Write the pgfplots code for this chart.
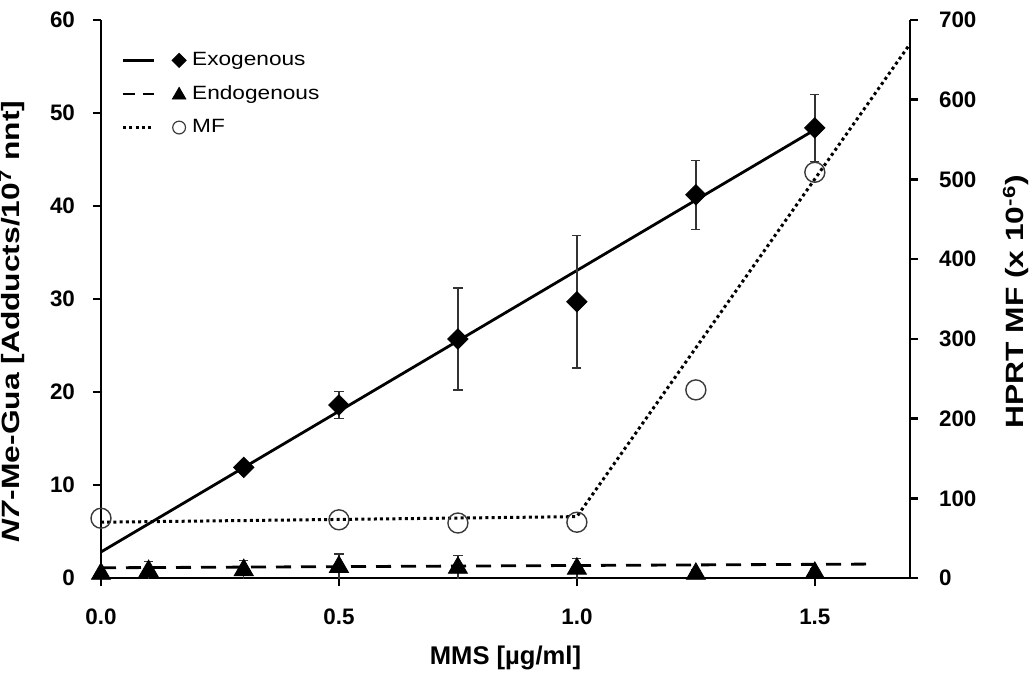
\documentclass[border=0pt]{standalone}
\usepackage{fontspec}
\setmainfont{Liberation Sans}
\newfontfamily\labfont{Liberation Sans}[FakeStretch=1.27]
\newfontfamily\legfont{Liberation Sans}[FakeStretch=1.18]
\usepackage{pgfplots}
\pgfplotsset{compat=1.18}

\definecolor{circ}{HTML}{3A3A3A}
\definecolor{errc}{HTML}{333333}

\pgfplotsset{
  base/.style={
    scale only axis, width=404.5pt, height=279pt,
    xmin=0, xmax=1.7,
    axis line style={line width=1.3pt},
    tick style={line width=1.3pt, black},
    tick align=outside, major tick length=4pt,
    ticklabel style={font=\bfseries\fontsize{11.2}{13}\selectfont},
    /pgf/number format/assume math mode=true,
  },
}

\begin{document}
\begin{tikzpicture}
\begin{axis}[base, name=ax,
    axis x line*=bottom, axis y line*=left,
    ymin=0, ymax=60, ytick={0,10,...,60},
    xtick={0,0.5,1,1.5},
    xticklabel={\pgfmathprintnumber[fixed,fixed zerofill,precision=1]{\tick}},
    xticklabel style={yshift=-8pt},
    yticklabel style={xshift=-5.5pt},
    every axis x label/.style={at={(axis description cs:0.5,-0.143)}, anchor=center},
    every axis y label/.style={at={(axis description cs:-0.110,0.46)}, anchor=center, rotate=90},
    xlabel={\bfseries\fontsize{12.8}{14}\selectfont MMS [µg/ml]},
    ylabel={\labfont\bfseries\fontsize{12.5}{14}\selectfont \textit{N7}-Me-Gua [Adducts/10\textsuperscript{7} nnt]},
    legend style={at={(axis description cs:0.025,0.95)}, anchor=north west,
      draw=none, fill=none, font=\legfont\fontsize{9.6}{11}\selectfont,
      row sep=4.5pt, inner sep=0pt,
      /tikz/every odd column/.append style={column sep=1pt}},
    legend cell align=left,
  ]
  % Exogenous trend line
  \addplot[black, line width=1.4pt, forget plot] coordinates {(0,2.8) (1.5,48.2)};
  % Exogenous data
  \addplot[only marks, forget plot, mark=square*, mark size=3.6pt, mark options={rotate=45, fill=black},
    error bars/.cd, y dir=both, y explicit,
    error bar style={errc, line width=0.7pt},
    error mark options={rotate=90, mark size=2.3pt, errc, line width=0.7pt}]
    coordinates {
    (0.3,11.9) +- (0,0.4)
    (0.5,18.6) +- (0,1.45)
    (0.75,25.7) +- (0,5.5)
    (1.0,29.7) +- (0,7.1)
    (1.25,41.2) +- (0,3.7)
    (1.5,48.4) +- (0,3.6)
    };
  % Endogenous trend line
  \addplot[black, line width=1.4pt, dash pattern=on 7.5pt off 5pt, forget plot]
    coordinates {(0,1.1) (1.62,1.5)};
  % Endogenous data
  \addplot[only marks, forget plot, mark=triangle*, mark size=5.5pt, mark options={fill=black},
    error bars/.cd, y dir=both, y explicit,
    error bar style={errc, line width=0.7pt},
    error mark options={rotate=90, mark size=2.3pt, errc, line width=0.7pt}]
    coordinates {
    (0,0.45) +- (0,0.3)
    (0.1,0.75) +- (0,1.0)
    (0.3,0.85) +- (0,1.05)
    (0.5,1.2) +- (0,1.4)
    (0.75,1.1) +- (0,1.3)
    (1.0,1.0) +- (0,1.1)
    (1.25,0.45) +- (0,0.4)
    (1.5,0.55) +- (0,0.5)
    };
  \addlegendimage{legend image code/.code={
      \draw[black, line width=1.4pt] (0pt,0pt) -- (15.5pt,0pt);
      \draw plot[mark=square*, mark size=2.5pt, mark options={rotate=45, fill=black}] coordinates {(28pt,0pt)};}}
  \addlegendentry{Exogenous}
  \addlegendimage{legend image code/.code={
      \draw[black, line width=1.4pt, dash pattern=on 6pt off 4pt] (0pt,0pt) -- (15.5pt,0pt);
      \draw plot[mark=triangle*, mark size=3.9pt, mark options={fill=black}] coordinates {(28pt,-0.6pt)};}}
  \addlegendentry{Endogenous}
  \addlegendimage{legend image code/.code={
      \draw[black, line width=1.5pt, dash pattern=on 1.5pt off 1.6pt] (0pt,0pt) -- (15.5pt,0pt);
      \draw plot[mark=o, mark size=3.2pt, mark options={circ, line width=0.6pt}] coordinates {(28pt,0pt)};}}
  \addlegendentry{MF}
\end{axis}

\begin{axis}[base,
    axis x line=none, axis y line*=right,
    ymin=0, ymax=700, ytick={0,100,...,700},
    yticklabel style={xshift=7pt},
    every axis y label/.style={at={(axis description cs:1.131,0.495)}, anchor=center, rotate=90},
    ylabel={\labfont\bfseries\fontsize{12.5}{14}\selectfont HPRT MF (x 10\textsuperscript{-6})},
  ]
  % MF trend line
  \addplot[black, line width=1.5pt, dash pattern=on 1.5pt off 1.6pt]
    coordinates {(0,70) (1.0,77) (1.7,670)};
  % MF data
  \addplot[only marks, mark=o, mark size=5pt, mark options={circ, line width=0.7pt}]
    coordinates {(0,75) (0.5,73) (0.75,69) (1.0,70) (1.25,236) (1.5,509)};
\end{axis}

\pgfresetboundingbox
\path (ax.south west) ++(-50.5pt,-49.5pt) rectangle ++(516pt,338.5pt);
\end{tikzpicture}
\end{document}
